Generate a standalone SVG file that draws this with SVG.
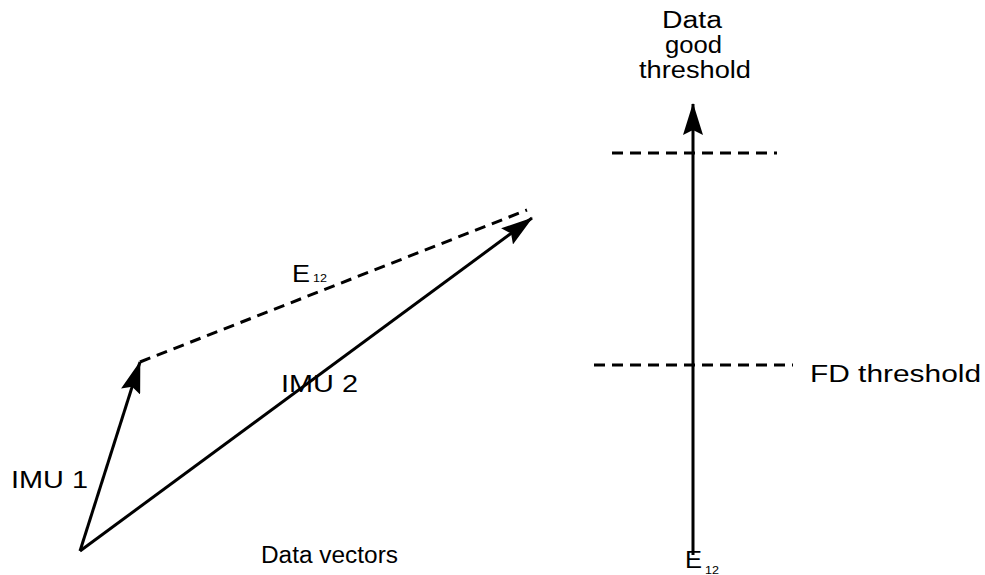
<svg xmlns="http://www.w3.org/2000/svg" width="985" height="575" viewBox="0 0 985 575">
<defs>
<marker id="big" viewBox="0 0 32 20" refX="31" refY="10" markerWidth="32" markerHeight="20" orient="auto" markerUnits="userSpaceOnUse">
<path d="M0,0 L32,10 L0,20 L5,10 Z" fill="#000"/>
</marker>
<style>
.ln{stroke:#000;stroke-width:3;fill:none}
.ds{stroke:#000;stroke-width:3;fill:none;stroke-dasharray:11,7}
text{font-family:"Liberation Sans",Arial,sans-serif;font-size:23px;fill:#000}
.sub{font-size:11px}
</style>
</defs>
<g id="connectors">
<line class="ln" x1="80" y1="551" x2="140" y2="362" marker-end="url(#big)"/>
<line class="ln" x1="80" y1="551" x2="532" y2="218" marker-end="url(#big)"/>
<line class="ds" x1="140" y1="362" x2="527" y2="210"/>
<line class="ln" x1="693" y1="555" x2="693" y2="104" marker-end="url(#big)"/>
<line class="ds" x1="612" y1="153" x2="777" y2="153"/>
<line class="ds" x1="594" y1="365" x2="793" y2="365"/>
</g>
<g id="label-e12"><text x="292" y="282" font-size="24px" textLength="18" lengthAdjust="spacingAndGlyphs">E</text><text class="sub" x="313" y="282" textLength="14" lengthAdjust="spacingAndGlyphs">12</text></g>
<g id="label-imu2"><text x="281" y="392" textLength="77" lengthAdjust="spacingAndGlyphs">IMU 2</text></g>
<g id="label-imu1"><text x="11" y="488" textLength="77" lengthAdjust="spacingAndGlyphs">IMU 1</text></g>
<g id="label-datavectors"><text x="261" y="563" textLength="137" lengthAdjust="spacingAndGlyphs">Data vectors</text></g>
<g id="label-good"><text x="662" y="28" textLength="60" lengthAdjust="spacingAndGlyphs">Data</text><text x="665" y="53" textLength="57" lengthAdjust="spacingAndGlyphs">good</text><text x="639" y="78" textLength="112" lengthAdjust="spacingAndGlyphs">threshold</text></g>
<g id="label-fd"><text x="810" y="382" textLength="171" lengthAdjust="spacingAndGlyphs">FD threshold</text></g>
<g id="label-e12-axis"><text x="685" y="568" font-size="21px" textLength="17" lengthAdjust="spacingAndGlyphs">E</text><text class="sub" x="705" y="574" textLength="14" lengthAdjust="spacingAndGlyphs">12</text></g>
</svg>
